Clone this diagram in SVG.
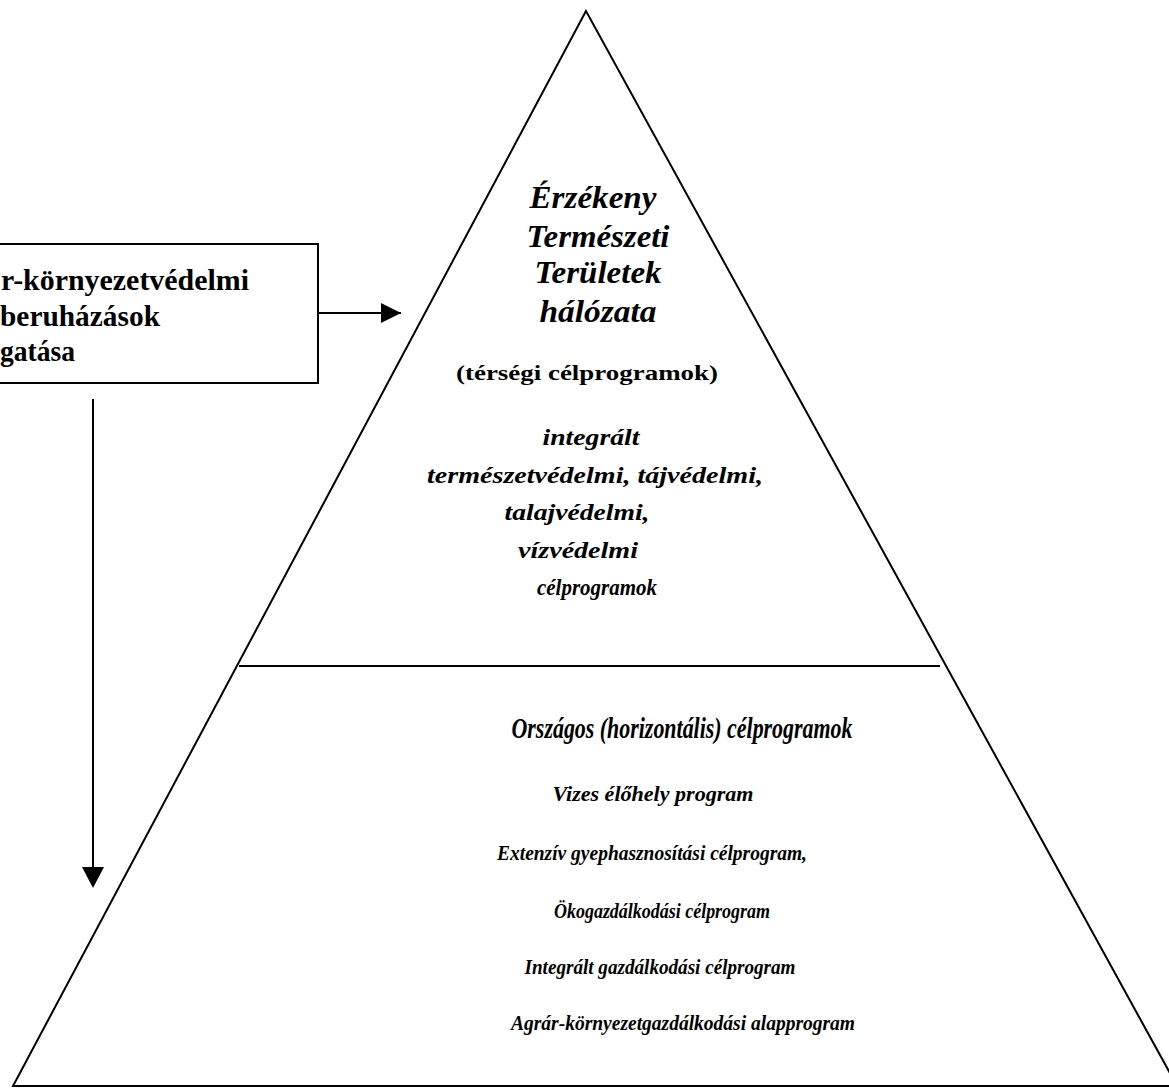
<svg xmlns="http://www.w3.org/2000/svg" width="1169" height="1088" viewBox="0 0 1169 1088">
<defs>
<style>
.ln{fill:none;stroke:#000;stroke-width:2}
.box{font-family:"Liberation Serif","Times New Roman",serif;font-weight:bold;font-size:29px;fill:#000}
.bi{font-family:"Liberation Serif","Times New Roman",serif;font-weight:bold;font-style:italic;fill:#000;text-anchor:middle}
.b{font-family:"Liberation Serif","Times New Roman",serif;font-weight:bold;fill:#000;text-anchor:middle}
</style>
<marker id="ah" viewBox="0 0 10 10" refX="10" refY="5" markerWidth="10" markerHeight="10" markerUnits="userSpaceOnUse" orient="auto">
<path d="M0,0 L10,5 L0,10 Z" fill="#000"/>
</marker>
</defs>
<rect width="1169" height="1088" fill="#fff"/>
<g id="pyramid">
<polygon class="ln" points="586,11 13,1086 1177,1086"/>
<line class="ln" x1="239" y1="666" x2="940" y2="666"/>
</g>
<g id="box">
<rect class="ln" x="-4" y="244" width="322" height="139"/>
<text class="box" x="1" y="290" textLength="248" lengthAdjust="spacingAndGlyphs">r-környezetvédelmi</text>
<text class="box" x="0" y="326" textLength="160" lengthAdjust="spacingAndGlyphs">beruházások</text>
<text class="box" x="0" y="361" textLength="75" lengthAdjust="spacingAndGlyphs">gatása</text>
</g>
<g id="top-section">
<text class="bi" font-size="32" x="593" y="208" textLength="127" lengthAdjust="spacingAndGlyphs">Érzékeny</text>
<text class="bi" font-size="32" x="598" y="247" textLength="143" lengthAdjust="spacingAndGlyphs">Természeti</text>
<text class="bi" font-size="32" x="598" y="283" textLength="127" lengthAdjust="spacingAndGlyphs">Területek</text>
<text class="bi" font-size="32" x="598" y="322" textLength="117" lengthAdjust="spacingAndGlyphs">hálózata</text>
<text class="b" font-size="22" x="587" y="380" textLength="262" lengthAdjust="spacingAndGlyphs">(térségi célprogramok)</text>
<text class="bi" font-size="24" x="591" y="445" textLength="97" lengthAdjust="spacingAndGlyphs">integrált</text>
<text class="bi" font-size="24" x="595" y="483" textLength="336" lengthAdjust="spacingAndGlyphs">természetvédelmi, tájvédelmi,</text>
<text class="bi" font-size="24" x="577" y="520" textLength="145" lengthAdjust="spacingAndGlyphs">talajvédelmi,</text>
<text class="bi" font-size="24" x="578" y="558" textLength="120" lengthAdjust="spacingAndGlyphs">vízvédelmi</text>
<text class="bi" font-size="24" x="597" y="595" textLength="120" lengthAdjust="spacingAndGlyphs">célprogramok</text>
</g>
<g id="bottom-section">
<text class="bi" font-size="29" x="682" y="738" textLength="341" lengthAdjust="spacingAndGlyphs">Országos (horizontális) célprogramok</text>
<text class="bi" font-size="21" x="653" y="801" textLength="201" lengthAdjust="spacingAndGlyphs">Vizes élőhely program</text>
<text class="bi" font-size="21" x="652" y="860" textLength="310" lengthAdjust="spacingAndGlyphs">Extenzív gyephasznosítási célprogram,</text>
<text class="bi" font-size="21" x="662" y="918" textLength="216" lengthAdjust="spacingAndGlyphs">Ökogazdálkodási célprogram</text>
<text class="bi" font-size="21" x="660" y="974" textLength="271" lengthAdjust="spacingAndGlyphs">Integrált gazdálkodási célprogram</text>
<text class="bi" font-size="21" x="683" y="1030" textLength="344" lengthAdjust="spacingAndGlyphs">Agrár-környezetgazdálkodási alapprogram</text>
</g>
<g id="connectors">
<line x1="318" y1="313" x2="401" y2="313" stroke="#000" stroke-width="2"/>
<path d="M381,303 L401,313 L381,323 Z" fill="#000"/>
<line x1="93" y1="399" x2="93" y2="870" stroke="#000" stroke-width="2"/>
<path d="M82,867 L104,867 L93,888 Z" fill="#000"/>
</g>
</svg>
